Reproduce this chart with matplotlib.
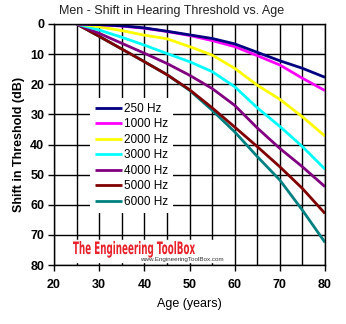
import matplotlib.pyplot as plt
from matplotlib.ticker import MultipleLocator
from matplotlib.textpath import TextPath
from matplotlib.patches import PathPatch
from matplotlib.font_manager import FontProperties
from matplotlib.transforms import Affine2D

plt.rcParams['font.family'] = ['Liberation Sans', 'DejaVu Sans']

# hearing threshold shift (dB) for men, read every 5 years
ages = [25, 30, 35, 40, 45, 50, 55, 60, 65, 70, 75, 80]
hz250 = [0, 0.2, 0.6, 1.3, 2.4, 3.6, 4.8, 6.6, 9.4, 12.2, 14.7, 17.7]
hz1000 = [0, 0.2, 0.7, 1.4, 2.5, 3.8, 5.5, 7.5, 10.5, 13.6, 18.0, 22.1]
hz2000 = [0, 0.9, 2.2, 3.7, 4.9, 7.5, 10.3, 14.7, 20.3, 25.0, 30.8, 37.2]
hz3000 = [0, 2.0, 4.4, 7.0, 9.8, 12.5, 15.8, 20.8, 27.8, 34.0, 40.7, 48.2]
hz4000 = [0, 3.1, 6.4, 9.7, 13.1, 17.0, 21.4, 27.0, 34.5, 41.3, 47.4, 54.0]
hz5000 = [0, 4.1, 8.3, 12.5, 16.8, 21.8, 27.8, 34.2, 40.7, 47.4, 54.6, 62.9]
hz6000 = [0, 4.1, 8.3, 12.5, 16.8, 22.0, 28.6, 35.8, 44.0, 51.8, 61.8, 72.5]

series = [
    ('250 Hz', hz250, '#000080'),
    ('1000 Hz', hz1000, '#ff00ff'),
    ('2000 Hz', hz2000, '#ffff00'),
    ('3000 Hz', hz3000, '#00ffff'),
    ('4000 Hz', hz4000, '#800080'),
    ('5000 Hz', hz5000, '#800000'),
    ('6000 Hz', hz6000, '#008080'),
]

W, H = 346, 324
fig = plt.figure(figsize=(W/100, H/100), dpi=100)
ax = fig.add_axes([54/W, 1 - 265/H, 271/W, 241/H])

# draw the high frequencies first so the low ones sit on top
for name, vals, col in reversed(series):
    ax.plot(ages, vals, color=col, lw=2.0, label=name, solid_capstyle='butt')

ax.set_xlim(20, 80)
ax.set_ylim(80, 0)
ax.xaxis.set_major_locator(MultipleLocator(10))
ax.xaxis.set_minor_locator(MultipleLocator(5))
ax.yaxis.set_major_locator(MultipleLocator(10))
ax.grid(which='both', axis='x', color='black', lw=1)
ax.grid(which='major', axis='y', color='black', lw=1)
ax.set_axisbelow(True)
ax.tick_params(which='minor', length=0)
ax.tick_params(which='major', length=4, width=1, direction='out')
ax.tick_params(axis='x', pad=6)
ax.tick_params(axis='y', pad=3)
for s in ax.spines.values():
    s.set_linewidth(1)
for lab in ax.get_xticklabels() + ax.get_yticklabels():
    lab.set_fontweight('bold')
    lab.set_fontsize(9)

ax.set_xlabel('Age (years)', fontsize=9, labelpad=5)
ax.set_ylabel('Shift in Threshold (dB)', fontsize=9, fontweight='bold', labelpad=4)
fig.text(172/W, 1 - 11/H, 'Men - Shift in Hearing Threshold vs. Age',
         ha='center', va='center', fontsize=9, color='#222222')

handles, labels = ax.get_legend_handles_labels()
leg = ax.legend(handles[::-1], labels[::-1], loc='upper left',
                bbox_to_anchor=(36/271, 1 - 74/241), frameon=True,
                fontsize=8.5, handlelength=2.3, handletextpad=0.2,
                labelspacing=0.3, borderpad=0.4, borderaxespad=0)
leg.get_frame().set_edgecolor('none')
leg.get_frame().set_facecolor('white')
leg.get_frame().set_alpha(1)

# condensed red logo text, squeezed from a bold text path
fig.patches.append(plt.Rectangle((70, H - 262), 158, 22, color='white',
                                 transform=None, zorder=2))
logo = TextPath((0, 0), 'The Engineering ToolBox', size=1,
                prop=FontProperties(family='DejaVu Sans', weight='bold'))
bb = logo.get_extents()
sx = 122 / bb.width
sy = 12.5 / 0.73
tr = Affine2D().translate(-bb.x0, 0).scale(sx, sy).translate(73, H - 254)
fig.patches.append(PathPatch(logo, transform=tr, color='#e8202a',
                             lw=0, zorder=3))
fig.text(140/W, 1 - 260/H, 'www.EngineeringToolBox.com',
         color='#333333', fontsize=4.5, va='center', zorder=3)

fig.savefig('out.png', dpi=100)
